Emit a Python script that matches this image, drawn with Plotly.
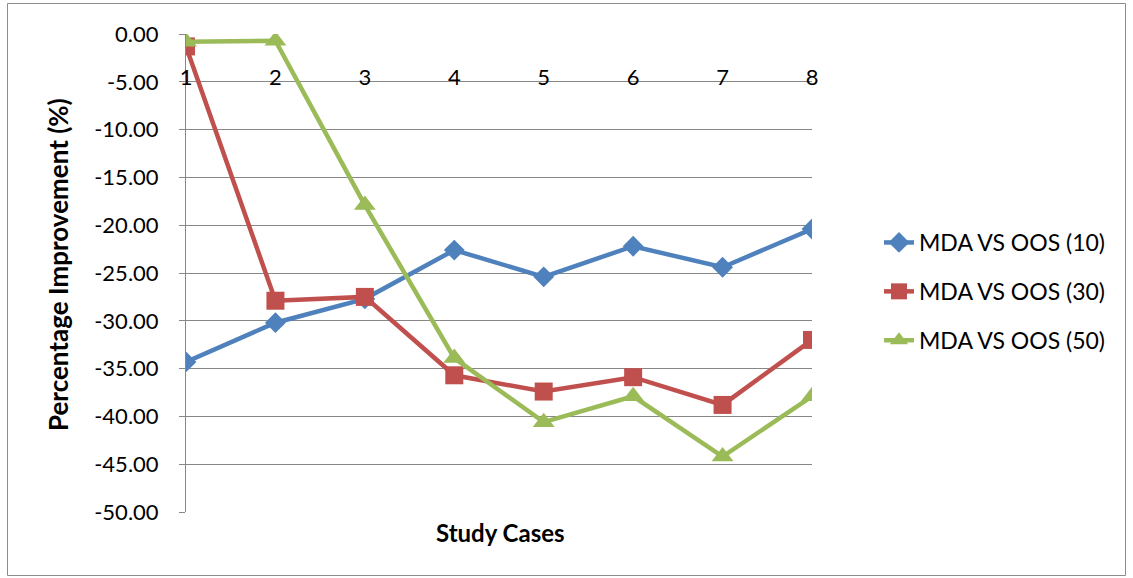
import plotly.graph_objects as go

# Study cases and percentage improvement of MDA against OOS for three settings
cases = [1, 2, 3, 4, 5, 6, 7, 8]
mda_oos_10 = [-34.3, -30.2, -27.7, -22.6, -25.4, -22.2, -24.4, -20.4]
mda_oos_30 = [-1.3, -27.9, -27.5, -35.7, -37.4, -35.9, -38.8, -32.0]
mda_oos_50 = [-0.8, -0.7, -17.9, -33.9, -40.6, -37.9, -44.2, -37.9]

# value axis ticks, written with a plain hyphen as the minus sign
y_ticks = [0, -5, -10, -15, -20, -25, -30, -35, -40, -45, -50]
y_tick_labels = ["0.00", "-5.00", "-10.00", "-15.00", "-20.00", "-25.00",
                 "-30.00", "-35.00", "-40.00", "-45.00", "-50.00"]

series = [
    ("MDA VS OOS (10)", mda_oos_10, "#4F81BD", "diamond", 16),
    ("MDA VS OOS (30)", mda_oos_30, "#C0504D", "square", 18),
    ("MDA VS OOS (50)", mda_oos_50, "#9BBB59", "triangle-up", 19),
]

FONT = "Lato"
W, H = 1133, 578
L, R, T, B = 186, 321, 34, 66
pw, ph = W - L - R, H - T - B


def px_x(x):
    return (x - L) / pw


def px_y(y):
    return (H - B - y) / ph


fig = go.Figure()
for i, (name, vals, color, sym, size) in enumerate(series):
    fig.add_trace(go.Scatter(
        x=cases, y=vals, name=name, mode="lines+markers",
        line=dict(color=color, width=4.5),
        marker=dict(symbol=sym, size=size, color=color),
        legendgroup=f"g{i}",
    ))

grid = "#878787"
fig.update_layout(
    width=W, height=H,
    margin=dict(l=L, r=R, t=T, b=B),
    paper_bgcolor="white", plot_bgcolor="white",
    font=dict(family=FONT, size=21, color="black"),
    showlegend=True,
    legend=dict(
        x=px_x(879), y=px_y(221), xanchor="left", yanchor="top",
        font=dict(family=FONT, size=23, color="black"),
        traceorder="grouped", tracegroupgap=16,
        bgcolor="rgba(0,0,0,0)",
    ),
    # category labels sit just under the zero line, inside the plot
    xaxis=dict(
        range=[1, 8], anchor="free", position=px_y(62), side="bottom",
        tickmode="array", tickvals=cases, ticktext=[str(c) for c in cases],
        ticks="", showline=False, showgrid=False, zeroline=False,
        tickfont=dict(family=FONT, size=22, color="black"),
    ),
    # category axis line with its tick marks along the zero line
    xaxis2=dict(
        range=[1, 8], overlaying="x", anchor="y", side="top",
        tickmode="array", tickvals=cases, showticklabels=False,
        ticks="inside", ticklen=8, tickcolor=grid,
        showline=True, linecolor=grid, linewidth=1,
        showgrid=False, zeroline=False,
    ),
    yaxis=dict(
        range=[-50, 0], tickmode="array", tickvals=y_ticks,
        ticktext=y_tick_labels, ticks="outside", ticklen=6, tickcolor=grid,
        ticklabelstandoff=16,
        showline=True, linecolor=grid, linewidth=1,
        showgrid=True, gridcolor=grid, gridwidth=1,
        zeroline=False,
        tickfont=dict(family=FONT, size=22, color="black"),
    ),
    annotations=[
        dict(text="<b>Study Cases</b>", xref="paper", yref="paper",
             x=px_x(500), y=px_y(532), xanchor="center", yanchor="middle",
             showarrow=False, font=dict(family=FONT, size=24)),
        dict(text="<b>Percentage Improvement (%)</b>", xref="paper", yref="paper",
             x=px_x(58), y=px_y(265), xanchor="center", yanchor="middle",
             textangle=-90, showarrow=False, font=dict(family=FONT, size=26)),
    ],
    shapes=[
        dict(type="rect", xref="paper", yref="paper",
             x0=px_x(7.5), x1=px_x(1125.5), y0=px_y(575.5), y1=px_y(3.5),
             line=dict(color="#8c8c8c", width=1), layer="below"),
    ],
)

fig.write_html("out.html")
